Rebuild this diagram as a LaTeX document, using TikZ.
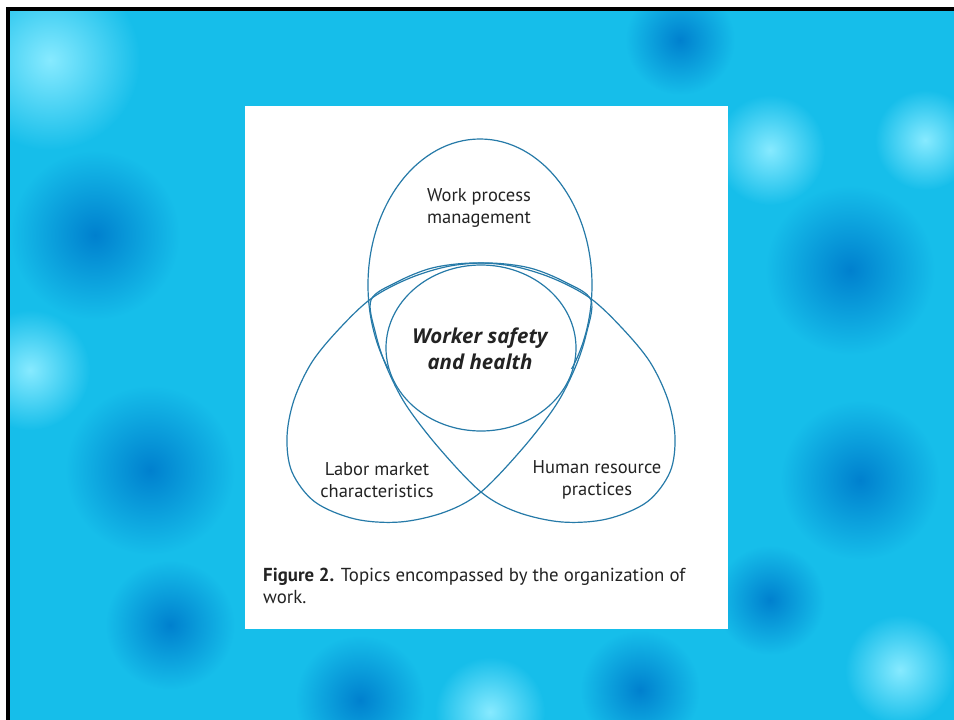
\documentclass[tikz,border=0pt]{standalone}
\usepackage{fontspec}
\setmainfont{PT Sans}
\newfontfamily\corefont{Open Sans}
\usepackage{tikz}
\usetikzlibrary{positioning}
\definecolor{ringblue}{RGB}{38,122,168}
\definecolor{inkgray}{RGB}{35,35,35}
\definecolor{wbase}{RGB}{22,190,234}
\definecolor{wdark}{RGB}{0,128,206}
\definecolor{wlight}{RGB}{135,234,255}
\tikzset{
  ring/.style={draw=ringblue, line width=1.2pt},
  topic/.style={align=center, text=inkgray, inner sep=0pt,
    font=\fontsize{18.5}{21.5}\selectfont},
  core/.style={align=center, text=inkgray, inner sep=0pt,
    font=\corefont\fontsize{20.5}{25.5}\selectfont\bfseries\itshape},
  capt/.style={align=left, text=inkgray, inner sep=0pt, anchor=west,
    font=\fontsize{18.8}{21.5}\selectfont},
  darkspot/.style={inner color=wdark, outer color=wbase},
  lightspot/.style={inner color=wlight, outer color=wbase}
}

\begin{document}
\begin{tikzpicture}[x=1pt, y=-1pt]
  \useasboundingbox (0,0) rectangle (954,720);
  \fill[white] (0,0) rectangle (954,720);

  % Water background
  \fill[wbase] (8,9) rectangle (954,720);
  \begin{scope}
    \clip (8,9) rectangle (954,720);
    \shade[lightspot] (50,60) circle (90);
    \shade[lightspot] (770,150) circle (55);
    \shade[lightspot] (925,140) circle (50);
    \shade[lightspot] (30,370) circle (60);
    \shade[lightspot] (900,670) circle (55);
    \shade[lightspot] (490,712) circle (55);
    \shade[darkspot] (95,235) circle (85);
    \shade[darkspot] (150,470) circle (85);
    \shade[darkspot] (680,40) circle (55);
    \shade[darkspot] (850,270) circle (85);
    \shade[darkspot] (860,480) circle (80);
    \shade[darkspot] (770,600) circle (55);
    \shade[darkspot] (640,690) circle (60);
    \shade[darkspot] (360,700) circle (65);
    \shade[darkspot] (170,625) circle (65);
  \end{scope}
  \draw[black, line width=3.5pt] (8,720) -- (8,9) -- (954,9);

  % White figure panel
  \fill[white] (245,106) rectangle (728,629);

  % Work process oval (its lower part runs along the centre circle)
  \begin{scope}
    \clip (245,106) rectangle (728,368);
    \draw[ring] (480,285) ellipse [x radius=112, y radius=146];
  \end{scope}
  % Labor market oval
  \draw[ring] plot[smooth cycle, tension=0.55] coordinates {
    (591,300) (586,335) (575,368) (556,405) (523,448) (481,492) (445,512)
    (400,522) (355,519) (315,502) (292,472) (287,437) (294,400) (312,362)
    (340,328) (372,298) (410,278) (450,266) (490,263) (530,268) (565,282)};
  % Human resource oval
  \draw[ring] plot[smooth cycle, tension=0.55] coordinates {
    (371,300) (376,335) (387,368) (406,405) (439,448) (481,492) (517,512)
    (562,522) (607,519) (647,502) (670,472) (675,437) (668,400) (650,362)
    (622,328) (590,298) (552,278) (512,266) (472,263) (432,268) (397,282)};
  % Centre circle
  \draw[ring] (481,348) ellipse [x radius=95, y radius=83];

  % Labels
  \node[topic] (wpm) at (479,208) {Work process\\management};
  \node[core] (wsh) at (480,349) {Worker safety\\and health};
  \node[topic] (lmc) at (377,480) {Labor market\\characteristics};
  \node[topic] (hrp) at (597,480) {Human resource\\practices};
  \node[capt] (capt) at (263,586)
    {\textbf{Figure 2.} Topics encompassed by the organization of\\work.};
\end{tikzpicture}
\end{document}
